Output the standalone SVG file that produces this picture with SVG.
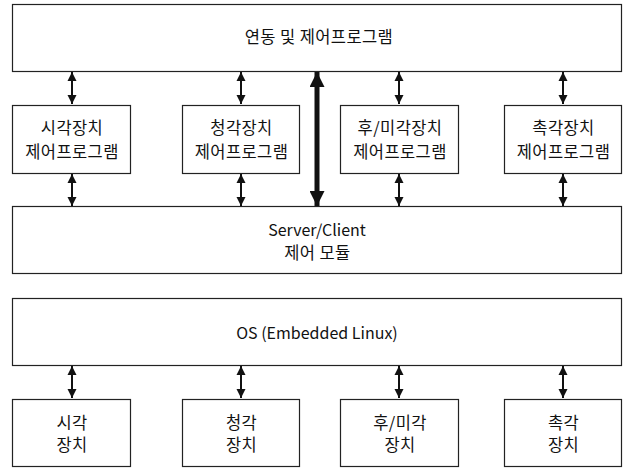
<svg xmlns="http://www.w3.org/2000/svg" width="625" height="468" viewBox="0 0 625 468">
<style>
.box{fill:#fff;stroke:#222;stroke-width:1.2}
.t{font-family:"Noto Sans CJK KR","Noto Sans",sans-serif;font-size:16.5px;letter-spacing:0.4px;fill:#111;text-anchor:middle;dominant-baseline:central}
.l{letter-spacing:0;font-size:16px}
.c{stroke:#111;stroke-width:2;fill:none}
.ct{stroke:#111;stroke-width:5;fill:none}
</style>
<defs>
<marker id="ah" viewBox="0 0 10 10" refX="10" refY="5" markerWidth="4.5" markerHeight="5" orient="auto-start-reverse" markerUnits="strokeWidth">
<path d="M0,0 L10,5 L0,10 Z" fill="#111"/>
</marker>
<marker id="ahb" viewBox="0 0 10 10" refX="10" refY="5" markerWidth="4" markerHeight="3" orient="auto-start-reverse" markerUnits="strokeWidth">
<path d="M0,0 L10,5 L0,10 Z" fill="#111"/>
</marker>
</defs>
<rect width="625" height="468" fill="#fff"/>
<g id="connectors">
<line class="c" x1="72" y1="72" x2="72" y2="104" marker-start="url(#ah)" marker-end="url(#ah)"/>
<line class="c" x1="241" y1="72" x2="241" y2="104" marker-start="url(#ah)" marker-end="url(#ah)"/>
<line class="c" x1="399" y1="72" x2="399" y2="104" marker-start="url(#ah)" marker-end="url(#ah)"/>
<line class="c" x1="563" y1="72" x2="563" y2="104" marker-start="url(#ah)" marker-end="url(#ah)"/>
<line class="c" x1="72" y1="174" x2="72" y2="206" marker-start="url(#ah)" marker-end="url(#ah)"/>
<line class="c" x1="241" y1="174" x2="241" y2="206" marker-start="url(#ah)" marker-end="url(#ah)"/>
<line class="c" x1="399" y1="174" x2="399" y2="206" marker-start="url(#ah)" marker-end="url(#ah)"/>
<line class="c" x1="563" y1="174" x2="563" y2="206" marker-start="url(#ah)" marker-end="url(#ah)"/>
<line class="ct" x1="317" y1="72" x2="317" y2="206" marker-start="url(#ahb)" marker-end="url(#ahb)"/>
<line class="c" x1="72" y1="366" x2="72" y2="398" marker-start="url(#ah)" marker-end="url(#ah)"/>
<line class="c" x1="241" y1="366" x2="241" y2="398" marker-start="url(#ah)" marker-end="url(#ah)"/>
<line class="c" x1="399" y1="366" x2="399" y2="398" marker-start="url(#ah)" marker-end="url(#ah)"/>
<line class="c" x1="563" y1="366" x2="563" y2="398" marker-start="url(#ah)" marker-end="url(#ah)"/>
</g>
<g id="top">
<rect class="box" x="12.5" y="4.5" width="609" height="67"/>
<text class="t" x="319" y="36">연동 및 제어프로그램</text>
</g>
<g id="prog1">
<rect class="box" x="12.5" y="105.5" width="118" height="68"/>
<text class="t" x="72" y="127">시각장치</text>
<text class="t" x="72" y="151">제어프로그램</text>
</g>
<g id="prog2">
<rect class="box" x="182.5" y="105.5" width="117" height="68"/>
<text class="t" x="241.5" y="127">청각장치</text>
<text class="t" x="241.5" y="151">제어프로그램</text>
</g>
<g id="prog3">
<rect class="box" x="340.5" y="105.5" width="118" height="68"/>
<text class="t" x="400" y="127">후/미각장치</text>
<text class="t" x="400" y="151">제어프로그램</text>
</g>
<g id="prog4">
<rect class="box" x="504.5" y="105.5" width="117" height="68"/>
<text class="t" x="563.5" y="127">촉각장치</text>
<text class="t" x="563.5" y="151">제어프로그램</text>
</g>
<g id="server">
<rect class="box" x="12.5" y="206.5" width="609" height="67"/>
<text class="t l" x="317" y="229">Server/Client</text>
<text class="t" x="317.5" y="252">제어 모듈</text>
</g>
<g id="os">
<rect class="box" x="12.5" y="298.5" width="609" height="67"/>
<text class="t l" x="317" y="332">OS (Embedded Linux)</text>
</g>
<g id="dev1">
<rect class="box" x="12.5" y="399.5" width="118" height="67"/>
<text class="t" x="72" y="422">시각</text>
<text class="t" x="72" y="444">장치</text>
</g>
<g id="dev2">
<rect class="box" x="182.5" y="399.5" width="117" height="67"/>
<text class="t" x="241.5" y="422">청각</text>
<text class="t" x="241.5" y="444">장치</text>
</g>
<g id="dev3">
<rect class="box" x="340.5" y="399.5" width="118" height="67"/>
<text class="t" x="400" y="422">후/미각</text>
<text class="t" x="400" y="444">장치</text>
</g>
<g id="dev4">
<rect class="box" x="504.5" y="399.5" width="117" height="67"/>
<text class="t" x="563.5" y="422">촉각</text>
<text class="t" x="563.5" y="444">장치</text>
</g>
</svg>
